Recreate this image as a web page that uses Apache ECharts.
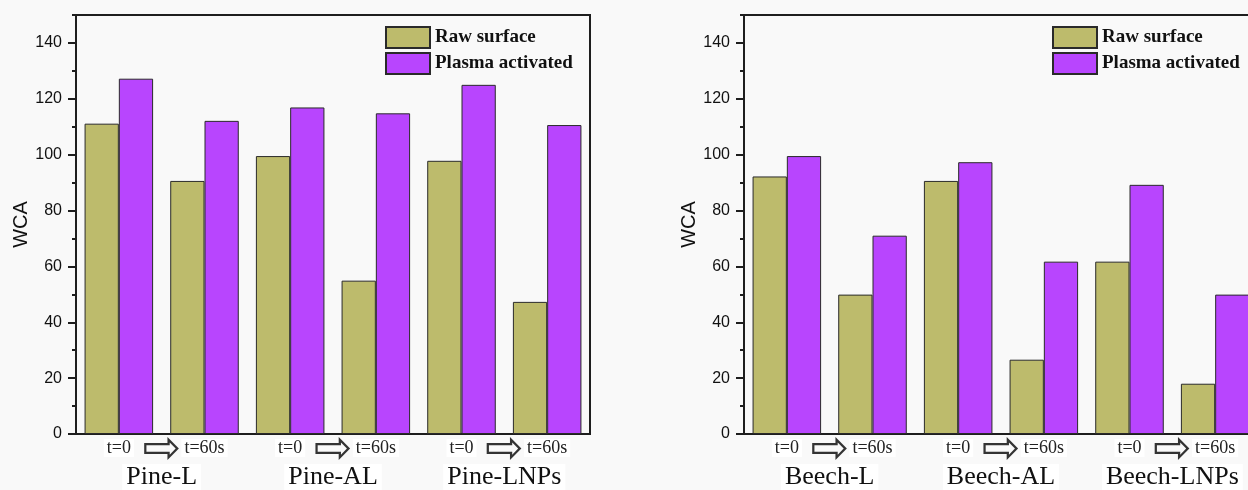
<!DOCTYPE html>
<html>
<head>
<meta charset="utf-8">
<script src="https://cdn.jsdelivr.net/npm/echarts@6/dist/echarts.min.js"></script>
<style>
html,body{margin:0;padding:0;background:#f9f9f9;}
#c{width:1248px;height:490px;}
</style>
</head>
<body>
<div id="c"></div>
<script>
const categories = ['t=0', 't=60s', 't=0', 't=60s', 't=0', 't=60s'];
const arrowSlots = ['', '\u21E8', '', '\u21E8', '', '\u21E8', ''];
const pineGroups = ['Pine-L', 'Pine-AL', 'Pine-LNPs'];
const beechGroups = ['Beech-L', 'Beech-AL', 'Beech-LNPs'];
const seriesNames = ['Raw surface', 'Plasma activated'];
const pineRaw = [111.1, 90.6, 99.5, 54.9, 97.8, 47.3];
const pinePlasma = [127.2, 112.1, 116.9, 114.8, 125.0, 110.6];
const beechRaw = [92.2, 49.9, 90.6, 26.6, 61.7, 18.0];
const beechPlasma = [99.5, 71.0, 97.3, 61.7, 89.2, 49.9];
const yTickLabels = [0, 20, 40, 60, 80, 100, 120, 140];
const yMax = 150;

const colors = ['#bdbb6c', '#b845fe'];
const dark = '#1e1e1e';
const serif = 'Liberation Serif, Times New Roman, serif';
const sans = 'Liberation Sans, Arial, sans-serif';

const grids = [
  {left: 76, top: 15, width: 514, bottom: 56},
  {left: 744, top: 15, width: 514, bottom: 56}
];
const groupSets = [pineGroups, beechGroups];
const dataSets = [[pineRaw, pinePlasma], [beechRaw, beechPlasma]];

const option = {
  animation: false,
  backgroundColor: '#f9f9f9',
  grid: grids.map(g => Object.assign({show: true, borderColor: dark, borderWidth: 2, backgroundColor: 'transparent', containLabel: false, outerBoundsMode: 'none'}, g)),
  legend: [385, 1052].map(lx => ({
    data: seriesNames,
    left: lx, top: 26,
    padding: 0,
    orient: 'vertical',
    icon: 'rect',
    itemWidth: 44, itemHeight: 21, itemGap: 3,
    selectedMode: false,
    textStyle: {fontFamily: serif, fontWeight: 'bold', fontSize: 19, color: '#111'}
  })),
  xAxis: [],
  yAxis: [],
  series: []
};

grids.forEach((g, gi) => {
  const base = option.xAxis.length;
  option.xAxis.push({
    type: 'category', gridIndex: gi, position: 'bottom', data: categories,
    axisLine: {lineStyle: {color: dark, width: 2}},
    axisTick: {show: false},
    axisLabel: {interval: 0, fontFamily: serif, fontSize: 18, color: '#222', margin: 5, backgroundColor: '#fff', padding: [0, 3]}
  });
  option.xAxis.push({
    type: 'category', gridIndex: gi, position: 'bottom', data: groupSets[gi],
    axisLine: {show: false}, axisTick: {show: false},
    axisLabel: {interval: 0, hideOverlap: false, fontFamily: serif, fontSize: 26, color: '#111', margin: 30, backgroundColor: '#fff', padding: [0, 4]}
  });
  option.xAxis.push({
    type: 'category', gridIndex: gi, position: 'bottom', data: arrowSlots, boundaryGap: false,
    axisLine: {show: false}, axisTick: {show: false},
    axisLabel: {interval: 0, hideOverlap: false, fontFamily: 'DejaVu Sans', fontSize: 46, color: '#333', margin: -6}
  });
  const ybase = option.yAxis.length;
  option.yAxis.push({
    type: 'value', gridIndex: gi, position: 'left', min: 0, max: yMax, interval: 20,
    name: 'WCA', nameLocation: 'middle', nameGap: gi === 0 ? 38 : 42,
    nameTextStyle: {fontFamily: sans, fontSize: 20, color: '#111'},
    axisLine: {show: true, lineStyle: {color: dark, width: 2}},
    axisTick: {show: true, length: 8, lineStyle: {color: dark, width: 2}, customValues: yTickLabels},
    axisLabel: {fontFamily: sans, fontSize: 16, color: '#111', margin: 14, customValues: yTickLabels},
    splitLine: {show: false}
  });
  option.yAxis.push({
    type: 'value', gridIndex: gi, position: 'left', min: 0, max: yMax, interval: 10,
    axisLine: {show: false},
    axisTick: {show: true, length: 4, lineStyle: {color: dark, width: 2}},
    axisLabel: {show: false},
    splitLine: {show: false}
  });
  seriesNames.forEach((nm, si) => {
    option.series.push({
      name: nm, type: 'bar', xAxisIndex: base, yAxisIndex: ybase,
      data: dataSets[gi][si],
      barGap: '0%', barCategoryGap: '20%',
      itemStyle: {color: colors[si], borderColor: '#2a2a2a', borderWidth: 1}
    });
  });
});

const chart = echarts.init(document.getElementById('c'), null, {renderer: 'canvas'});
chart.setOption(option);
</script>
</body>
</html>
